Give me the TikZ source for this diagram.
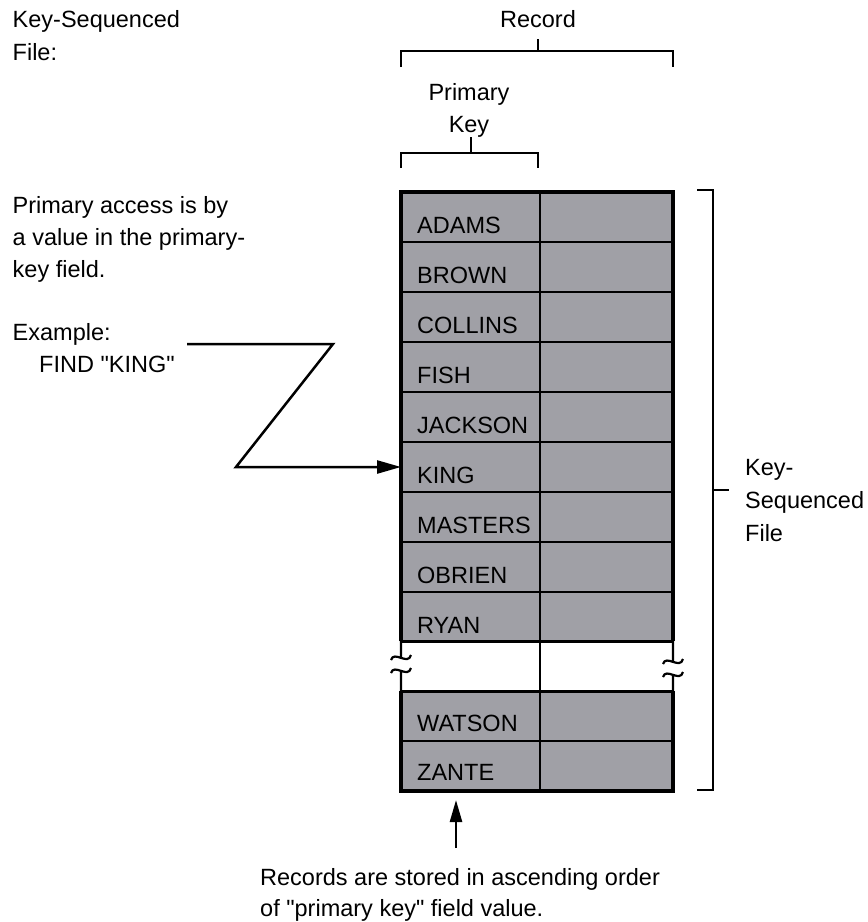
\documentclass[tikz,border=0pt]{standalone}
\usepackage{fontspec}
\setmainfont{Liberation Sans}
\usetikzlibrary{arrows.meta}
\definecolor{cellgray}{RGB}{160,160,166}
\newcommand{\dq}{\textquotedbl}
\begin{document}
\begin{tikzpicture}[x=1pt,y=-1pt,
  lbl/.style={inner sep=0pt, anchor=base west, font=\fontsize{23.5}{32}\selectfont},
  clbl/.style={lbl, anchor=base},
  gridline/.style={line width=2pt},
  rimline/.style={line width=3.5pt, line join=miter},
  breakline/.style={line width=2.2pt},
  bracket/.style={line width=2.5pt},
  pointer/.style={line width=2.5pt, -{Triangle[length=24pt,width=13pt]}},
  uppointer/.style={line width=2.5pt, -{Triangle[length=22pt,width=12pt]}}]
\useasboundingbox (0,0) rectangle (868,922);

% ---- left-hand explanatory text
\node[lbl] (ksf1) at (12.5,27) {Key-Sequenced};
\node[lbl] (ksf2) at (12.5,60) {File:};
\node[lbl] (acc1) at (12.5,213) {Primary access is by};
\node[lbl] (acc2) at (12.5,245) {a value in the primary-};
\node[lbl] (acc3) at (12.5,277) {key field.};
\node[lbl] (ex1) at (12.5,340) {Example:};
\node[lbl] (ex2) at (39,372) {FIND \dq KING\dq};

% ---- record table: shaded cells
\fill[cellgray] (401,192) rectangle (673,641);
\fill[cellgray] (401,691) rectangle (673,791);
% row separators
\foreach \y in {242,292,...,592} \draw[gridline] (401,\y) -- (673,\y);
\draw[gridline] (401,741) -- (673,741);
\draw[line width=3pt] (401,641) -- (673,641);
\draw[line width=3pt] (401,691) -- (673,691);
% key / data divider
\draw[line width=2.5pt] (540,192) -- (540,791);
% outer frame
\draw[rimline] (401,641) -- (401,192) -- (673,192) -- (673,641);
\draw[rimline] (401,691) -- (401,791) -- (673,791) -- (673,691);
% broken side edges with break marks
\draw[breakline] (401,641) -- (401,657)
  (391,660) .. controls (394,650) and (408,666) .. (411,655)
  (391,673) .. controls (394,663) and (408,679) .. (411,668)
  (401,670) -- (401,691);
\draw[breakline] (673,641) -- (673,661)
  (663,664) .. controls (666,654) and (680,670) .. (683,659)
  (663,677) .. controls (666,667) and (680,683) .. (683,672)
  (673,674) -- (673,691);

% ---- key names
\node[lbl] (adams)   at (417,233.5) {ADAMS};
\node[lbl] (brown)   at (417,283.5) {BROWN};
\node[lbl] (collins) at (417,333.5) {COLLINS};
\node[lbl] (fish)    at (417,383.5) {FISH};
\node[lbl] (jackson) at (417,433.5) {JACKSON};
\node[lbl] (king)    at (417,483.5) {KING};
\node[lbl] (masters) at (417,533.5) {MASTERS};
\node[lbl] (obrien)  at (417,583.5) {OBRIEN};
\node[lbl] (ryan)    at (417,633.5) {RYAN};
\node[lbl] (watson)  at (417,731.5) {WATSON};
\node[lbl] (zante)   at (417,780.5) {ZANTE};

% ---- brackets above the table
\node[clbl] (record) at (538,27) {Record};
\draw[bracket] (401,67) -- (401,51) -- (673,51) -- (673,67);
\draw[bracket] (538,51) -- (538,39);
\node[clbl] (pk1) at (469,100) {Primary};
\node[clbl] (pk2) at (469,132) {Key};
\draw[bracket] (401,168) -- (401,153) -- (538,153) -- (538,168);
\draw[bracket] (471,153) -- (471,137);

% ---- bracket for the whole file
\draw[bracket] (697,190) -- (713,190) -- (713,790) -- (697,790);
\draw[bracket] (713,490) -- (729,490);
\node[lbl] (ks1) at (745,475) {Key-};
\node[lbl] (ks2) at (745,508) {Sequenced};
\node[lbl] (ks3) at (745,541) {File};

% ---- lookup pointer
\coordinate (zstart) at (187,344);
\coordinate (zbend1) at (333,344);
\coordinate (zbend2) at (236,467);
\coordinate (kingedge) at (401,467);
\draw[pointer, line join=miter] (zstart) -- (zbend1) -- (zbend2) -- (kingedge);

% ---- ordering note
\node[lbl] (ord1) at (260,885.5) {Records are stored in ascending order};
\node[lbl] (ord2) at (260,916.5) {of \dq primary key\dq{} field value.};
\coordinate (ordtail) at (456,848);
\coordinate (tablebottom) at (456,800);
\draw[uppointer] (ordtail) -- (tablebottom);
\end{tikzpicture}
\end{document}
